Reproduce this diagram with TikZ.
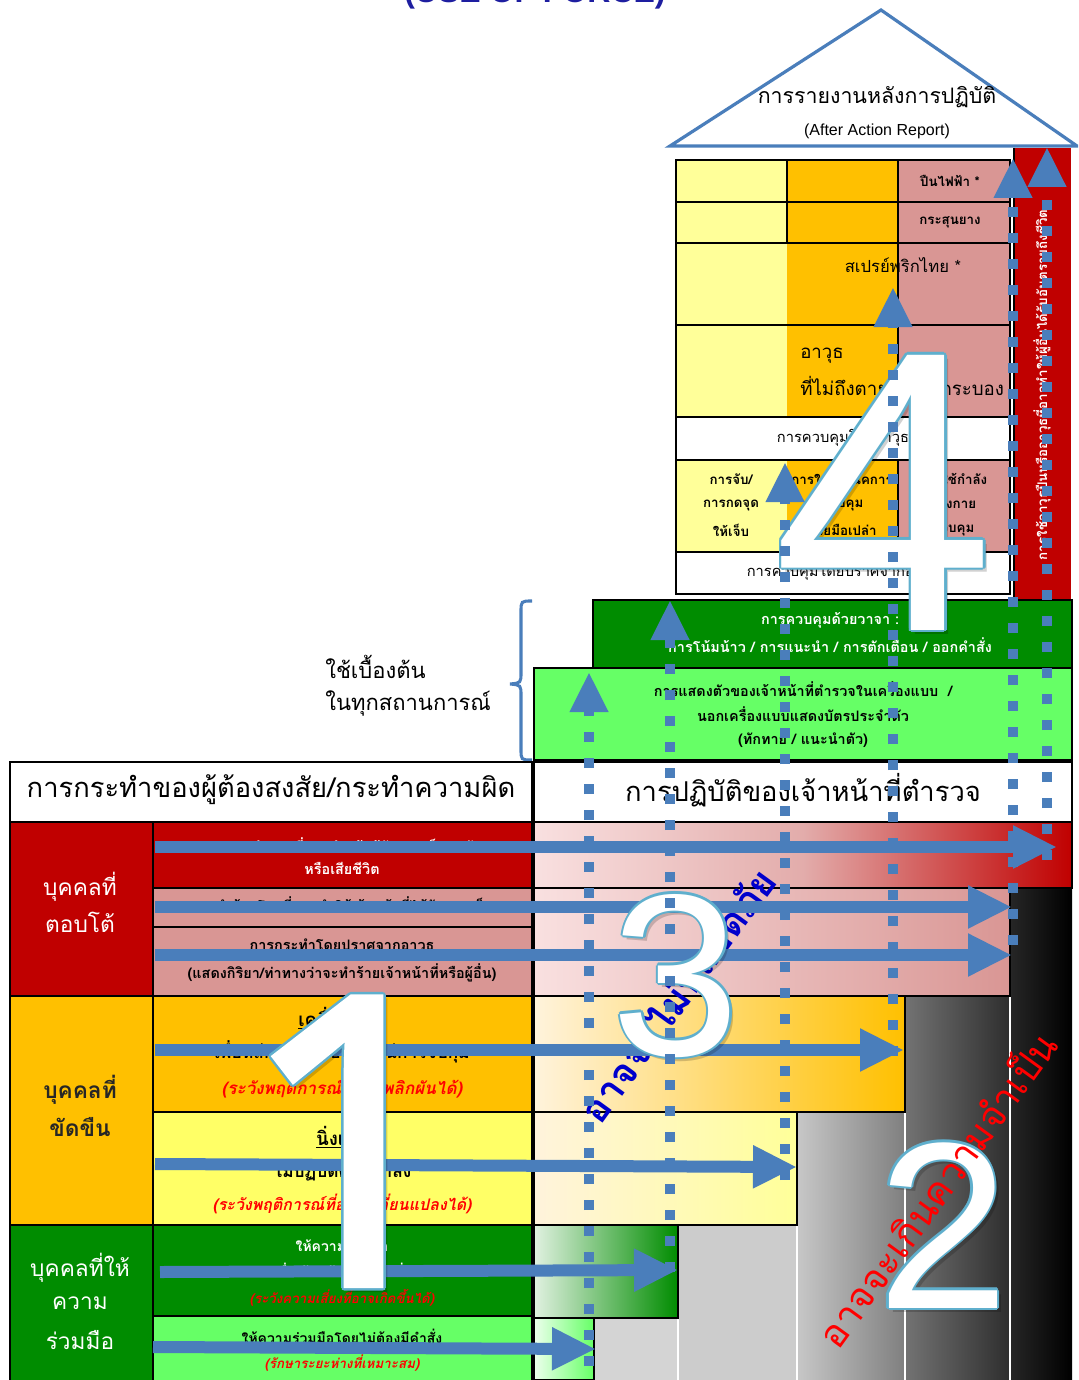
\documentclass[tikz,border=0pt]{standalone}
\usepackage{fontspec}
\setmainfont{Liberation Sans}
\newfontfamily\thfont[Script=Thai]{Loma}
\newfontfamily\numfont{Liberation Sans}
\newfontfamily\onefont[FakeBold=2]{Open Sans}
\usetikzlibrary{arrows.meta}
\definecolor{abl}{RGB}{74,126,187}
\definecolor{dred}{RGB}{192,0,0}
\definecolor{org}{RGB}{255,192,0}
\definecolor{yel}{RGB}{255,255,102}
\definecolor{lyel}{RGB}{255,255,153}
\definecolor{pnk}{RGB}{217,150,148}
\definecolor{lpnk}{RGB}{249,224,224}
\definecolor{dgr}{RGB}{0,140,0}
\definecolor{lgr}{RGB}{102,255,102}
\definecolor{ttl}{RGB}{30,30,160}
\definecolor{outl}{RGB}{95,175,205}
\definecolor{cream}{RGB}{255,243,220}
\definecolor{ublue}{RGB}{0,0,204}
\newcommand\outlinednum[5]{%
  \node[anchor=base, inner sep=0pt, text=black, opacity=0.18, font=#4] (#1sh) at (#2+4,#3+4) {#5};
  \foreach \dx/\dy [count=\k] in {-2.5/0,2.5/0,0/-2.5,0/2.5,-1.8/-1.8,1.8/1.8,-1.8/1.8,1.8/-1.8}{
    \node[anchor=base, inner sep=0pt, text=outl, font=#4] (#1o\k) at (#2+\dx,#3+\dy) {#5};}
  \node[anchor=base, inner sep=0pt, text=white, font=#4] (#1) at (#2,#3) {#5};}
\begin{document}
\begin{tikzpicture}[x=0.75pt,y=-0.75pt,
  tx/.style={inner sep=0pt, font=\thfont\fontsize{#1}{#1}\selectfont},
  txb/.style={inner sep=0pt, font=\thfont\bfseries\fontsize{#1}{#1}\selectfont},
  txi/.style={inner sep=0pt, text=red, font=\thfont\bfseries\itshape\fontsize{#1}{#1}\selectfont},
  cell/.style={draw=black, line width=0.8pt},
  harrow/.style={draw=abl, line width=9pt, -{Triangle[width=30pt,length=33pt]}},
  dotline/.style={draw=abl, line width=7.5pt, dash pattern=on 7.5pt off 12pt, -{Triangle[width=27pt,length=30pt]}}]
\useasboundingbox (0,0) rectangle (1078,1380);
\clip (0,0) rectangle (1078,1380);
\fill[white] (0,0) rectangle (1078,1380);

% title (cut off)
\node[anchor=base, inner sep=0pt, text=ttl, font=\bfseries\fontsize{24}{24}\selectfont] (title) at (535,3) {(USE OF FORCE)};

% roof
\coordinate (apex) at (881,10);
\coordinate (rl) at (670,146);
\coordinate (rr) at (1077,146);
\draw[draw=abl, fill=white, line width=2.4pt, line join=miter] (rl) -- (apex) -- (rr) -- cycle;
\node[tx=16] (aar1) at (877,97) {การรายงานหลังการปฏิบัติ};
\node[inner sep=0pt, font=\fontsize{12}{12}\selectfont] (aar2) at (877,131) {(After Action Report)};

% house body
\fill[lyel] (676,160) rectangle (787,417);
\fill[org] (787,160) rectangle (898,417);
\fill[pnk] (898,160) rectangle (1010,417);
\fill[lyel] (676,460) rectangle (787,552);
\fill[org] (787,460) rectangle (898,552);
\fill[pnk] (898,460) rectangle (1010,552);
\fill[dred] (1014,148) rectangle (1071,600);
\draw[cell] (676,160) rectangle (1010,594);
\draw[cell] (676,202) -- (1010,202) (676,243) -- (1010,243) (676,325) -- (1010,325)
  (676,417) -- (1010,417) (676,460) -- (1010,460) (676,552) -- (1010,552);
\draw[cell] (787,160) -- (787,243) (898,160) -- (898,417) (898,460) -- (898,552);
\draw[cell] (1014,148) -- (1014,600);

\node[txb=10] (gun) at (950,181) {ปืนไฟฟ้า *};
\node[txb=10] (rub) at (950,222) {กระสุนยาง};
\node[tx=12.5] (spray) at (903,265) {สเปรย์พริกไทย *};
\node[tx=14, anchor=west] (weap1) at (800,356) {อาวุธ};
\node[tx=14, anchor=west] (weap2) at (800,386) {ที่ไม่ถึงตาย / ติ้ว /กระบอง};
\node[tx=11] (ctrlw) at (843,438) {การควบคุมโดยอาวุธ};
\node[txb=10] (grab1) at (731,479) {การจับ/};
\node[txb=10] (grab2) at (731,505) {การกดจุด};
\node[txb=10] (grab3) at (731,530) {ให้เจ็บ};
\node[txb=10] (hand1) at (842,479) {การใช้เทคนิคการ};
\node[txb=10] (hand2) at (842,505) {ควบคุม};
\node[txb=10] (hand3) at (842,530) {ด้วยมือเปล่า};
\node[txb=10] (phys1) at (953,479) {การใช้กำลัง};
\node[txb=10] (phys2) at (953,505) {ทางกาย};
\node[txb=10] (phys3) at (953,530) {ควบคุม};
\node[tx=11] (ctrln) at (843,572) {การควบคุมโดยปราศจากอาวุธ};
\node[txb=10, rotate=90, text=white] (redtxt) at (1042,385) {การใช้อาวุธปืนหรืออาวุธที่อาจทำให้ผู้อื่นได้รับอันตรายถึงชีวิต};

% verbal / presence boxes
\fill[dgr] (593,600) rectangle (1072,668);
\draw[cell] (593,600) rectangle (1072,668);
\fill[lgr] (534,668) rectangle (1072,760);
\draw[cell] (534,668) rectangle (1072,760);
\node[txb=10.8, text=white] (verb1) at (830,620) {การควบคุมด้วยวาจา :};
\node[txb=10.8, text=white] (verb2) at (830,645) {การโน้มน้าว / การแนะนำ / การตักเตือน / ออกคำสั่ง};
\node[txb=10.8] (pres1) at (803,689) {การแสดงตัวของเจ้าหน้าที่ตำรวจในเครื่องแบบ \ /};
\node[txb=10.8] (pres2) at (803,714) {นอกเครื่องแบบแสดงบัตรประจำตัว};
\node[txb=10.8] (pres3) at (803,740) {(ทักทาย / แนะนำตัว)};

% brace
\draw[abl, line width=2.3pt] (532,601) .. controls (521,601) .. (521,612) -- (521,672)
  .. controls (521,683) .. (510,684) .. controls (521,685) .. (521,696) -- (521,749)
  .. controls (521,760) .. (532,760);
\node[tx=16.5, anchor=west] (base1) at (325,667) {ใช้เบื้องต้น};
\node[tx=16.5, anchor=west] (base2) at (325,703) {ในทุกสถานการณ์};

% header
\draw[cell, fill=white] (10,762) rectangle (532,822);
\draw[cell, fill=white] (534,762) rectangle (1072,822);
\node[tx=20.5] (hleft) at (271,790) {การกระทำของผู้ต้องสงสัย/กระทำความผิด};
\node[tx=20.5] (hright) at (803,790) {การปฏิบัติของเจ้าหน้าที่ตำรวจ};

% right graded area
\shade[left color=lpnk, right color=dred, middle color=pnk!70!lpnk] (534,822) rectangle (1072,888);
\shade[left color=lpnk, right color=pnk] (534,888) rectangle (1010,996);
\shade[left color=black!85, right color=black] (1010,888) rectangle (1072,1380);
\shade[left color=cream, right color=org] (534,996) rectangle (905,1112);
\shade[left color=black!55, right color=black!82] (905,996) rectangle (1010,1380);
\shade[left color=cream, right color=lyel] (534,1112) rectangle (797,1225);
\shade[left color=black!22, right color=black!50] (797,1112) rectangle (905,1380);
\shade[left color=dgr!12, right color=dgr] (534,1225) rectangle (678,1318);
\fill[black!20] (678,1225) rectangle (797,1380);
\shade[left color=lgr!12, right color=lgr] (534,1318) rectangle (594,1380);
\fill[black!17] (594,1318) rectangle (678,1380);
\draw[white, line width=1pt] (678,1318) -- (678,1380) (797,1225) -- (797,1380) (905,1112) -- (905,1380) (1010,996) -- (1010,1380);
\draw[cell] (534,822) rectangle (1072,888);
\draw[cell] (534,888) rectangle (1010,996);
\draw[cell] (534,996) rectangle (905,1112);
\draw[cell] (534,1112) rectangle (797,1225);
\draw[cell] (534,1225) rectangle (678,1318);
\draw[cell] (534,1318) rectangle (594,1380);

% left table
\fill[dred] (10,822) rectangle (153,996);
\fill[org] (10,996) rectangle (153,1225);
\fill[dgr] (10,1225) rectangle (153,1380);
\fill[dred] (153,822) rectangle (532,888);
\fill[pnk] (153,888) rectangle (532,996);
\fill[org] (153,996) rectangle (532,1112);
\fill[yel] (153,1112) rectangle (532,1225);
\fill[dgr] (153,1225) rectangle (532,1316);
\fill[lgr] (153,1316) rectangle (532,1380);
\draw[cell] (10,822) rectangle (153,996) (10,996) rectangle (153,1225) (10,1225) rectangle (153,1382);
\draw[cell] (153,822) rectangle (532,888) (153,888) rectangle (532,927) (153,927) rectangle (532,996)
  (153,996) rectangle (532,1112) (153,1112) rectangle (532,1225) (153,1225) rectangle (532,1316)
  (153,1316) rectangle (532,1382);

\node[tx=17, text=white] (cat1a) at (80,887) {บุคคลที่};
\node[tx=17, text=white] (cat1b) at (80,922) {ตอบโต้};
\node[txb=17, text=black!85] (cat2a) at (80,1090) {บุคคลที่};
\node[txb=17, text=black!85] (cat2b) at (80,1127) {ขัดขืน};
\node[tx=17, text=white] (cat3a) at (80,1268) {บุคคลที่ให้};
\node[tx=17, text=white] (cat3b) at (80,1303) {ความ};
\node[tx=17, text=white] (cat3c) at (80,1340) {ร่วมมือ};

\node[txb=10.8, text=white] (r1a) at (342,845) {การกระทำโดยที่อาจทำให้ได้รับบาดเจ็บสาหัส};
\node[txb=10.8, text=white] (r1b) at (342,868) {หรือเสียชีวิต};
\node[txb=10.8] (r2a) at (342,904) {การทำร้ายโดยที่อาจทำให้เจ้าหน้าที่ได้รับบาดเจ็บ};
\node[txb=10.8] (r3a) at (342,947) {การกระทำโดยปราศจากอาวุธ};
\node[txb=10.8] (r3b) at (342,973) {(แสดงกิริยา/ท่าทางว่าจะทำร้ายเจ้าหน้าที่หรือผู้อื่น)};
\node[txb=14] (r4a) at (342,1018) {\underline{เคลื่อนไหว}};
\node[txb=13] (r4b) at (342,1052) {เพื่อหลีกเลี่ยงหรือหลบหนีการจับกุม};
\node[txi=12.8] (r4c) at (342,1088) {(ระวังพฤติการณ์ที่อาจพลิกผันได้)};
\node[txb=14] (r5a) at (342,1137) {\underline{นิ่งเฉย}};
\node[txb=13] (r5b) at (342,1170) {ไม่ปฏิบัติตามคำสั่ง};
\node[txi=12] (r5c) at (342,1204) {(ระวังพฤติการณ์ที่อาจเปลี่ยนแปลงได้)};
\node[txb=10.5, text=white] (r6a) at (342,1246) {ให้ความร่วมมือ};
\node[txb=10.5, text=white] (r6b) at (342,1270) {เมื่อเจ้าหน้าที่ออกคำสั่ง};
\node[txi=10] (r6c) at (342,1298) {(ระวังความเสี่ยงที่อาจเกิดขึ้นได้)};
\node[txb=10.5] (r7a) at (342,1336) {ให้ความร่วมมือโดยไม่ต้องมีคำสั่ง};
\node[txi=10] (r7b) at (342,1363) {(รักษาระยะห่างที่เหมาะสม)};

% blue rotated text (under the 3)
\node[txb=29, text=ublue, rotate=54] (unsafe) at (677,995) {อาจจะไม่ปลอดภัย};

% horizontal arrows
\coordinate (h1s) at (155,847); \coordinate (h1e) at (1057,847);
\coordinate (h2s) at (155,907); \coordinate (h2e) at (1012,907);
\coordinate (h3s) at (155,955); \coordinate (h3e) at (1012,955);
\coordinate (h4s) at (155,1050); \coordinate (h4e) at (904,1050);
\coordinate (h5s) at (155,1164); \coordinate (h5e) at (797,1167);
\coordinate (h6s) at (160,1272); \coordinate (h6e) at (678,1270);
\coordinate (h7s) at (153,1347); \coordinate (h7e) at (596,1349);
\foreach \a in {1,...,7}{\draw[harrow] (h\a s) -- (h\a e);}

% big numbers
\outlinednum{n1}{354}{1284}{\onefont\fontsize{300}{300}\selectfont}{1}
\outlinednum{n4}{884}{630}{\numfont\fontsize{300}{300}\selectfont}{4}
\outlinednum{n3}{676}{1055}{\numfont\fontsize{173}{173}\selectfont}{3}
\outlinednum{n2}{943}{1308}{\numfont\fontsize{178}{178}\selectfont}{2}

% dotted vertical arrows
\coordinate (d1s) at (589,1366); \coordinate (d1e) at (589,672);
\coordinate (d2s) at (670,1272); \coordinate (d2e) at (670,600);
\coordinate (d3s) at (785,1180); \coordinate (d3e) at (785,462);
\coordinate (d4s) at (893,1056); \coordinate (d4e) at (893,287);
\coordinate (d5s) at (1013,945); \coordinate (d5e) at (1013,158);
\coordinate (d6s) at (1047,860); \coordinate (d6e) at (1047,147);
\foreach \a in {1,...,6}{\draw[dotline] (d\a s) -- (d\a e);}

% red rotated text (over the 2)
\node[tx=29, text=red, rotate=54] (excess) at (935,1188) {อาจจะเกินความจำเป็น};
\end{tikzpicture}
\end{document}
